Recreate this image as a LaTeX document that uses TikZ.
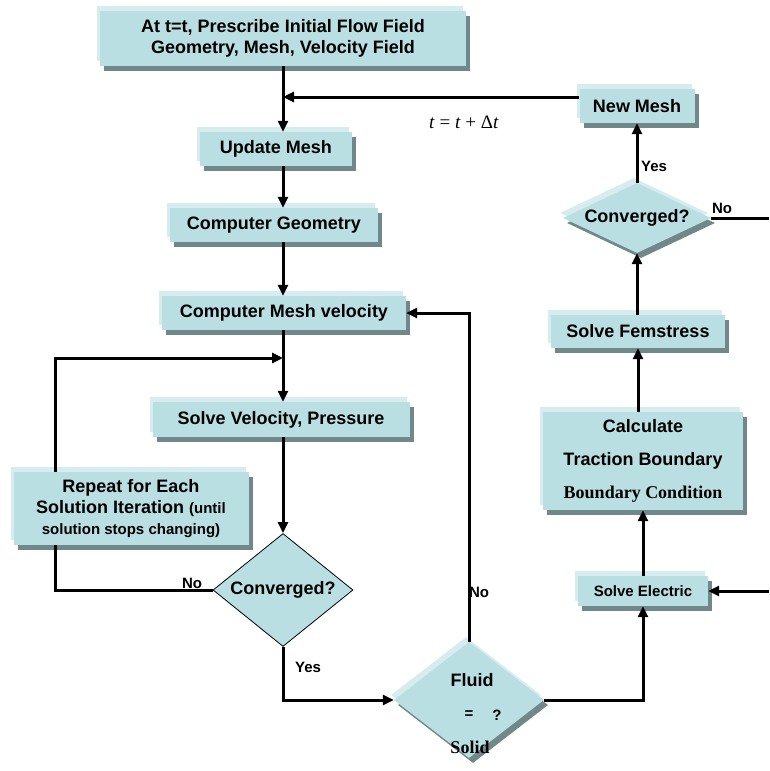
\documentclass[tikz,border=0pt]{standalone}
\usepackage{fontspec}
\setmainfont{Liberation Sans}
\newfontfamily\timesfont{Liberation Serif}
\usetikzlibrary{shapes.geometric,shadows,arrows.meta}
\definecolor{boxfill}{RGB}{185,223,227}
\definecolor{boxhi}{RGB}{214,236,239}
\definecolor{boxshade}{RGB}{112,136,138}
\tikzset{
  stepbox/.style={rectangle, fill=boxfill, inner sep=0pt, align=center,
    font=\fontsize{18}{21}\selectfont\bfseries,
    general shadow={shadow xshift=-3pt, shadow yshift=5pt, fill=boxhi},
    general shadow={shadow xshift=4pt, shadow yshift=-5pt, fill=boxshade}},
  decide/.style={stepbox, diamond, aspect=2},
  flow/.style={line width=3pt, -{Triangle[length=11pt,width=10pt]}},
  plain/.style={line width=3pt},
  tag/.style={font=\fontsize{15}{18}\selectfont\bfseries, inner sep=0pt},
}
\begin{document}
\begin{tikzpicture}[x=1pt,y=-1pt]
  \useasboundingbox (0,0) rectangle (769,771);
  % fluid loop
  \node[stepbox, minimum width=366pt, minimum height=55pt] (init) at (283,38.5) {At t=t, Prescribe Initial Flow Field\\Geometry, Mesh, Velocity Field};
  \node[stepbox, minimum width=152pt, minimum height=34pt] (upd) at (276,149) {Update Mesh};
  \node[stepbox, minimum width=208pt, minimum height=34pt] (geo) at (274,225) {Computer Geometry};
  \node[stepbox, minimum width=244pt, minimum height=34pt] (cmv) at (284,313) {Computer Mesh velocity};
  \node[stepbox, minimum width=257pt, minimum height=35pt] (svp) at (281,419.5) {Solve Velocity, Pressure};
  \node[stepbox, minimum width=235pt, minimum height=73pt] (rep) at (131,508.5) {Repeat for Each\\Solution Iteration {\fontsize{15}{18}\selectfont(until}\\{\fontsize{15}{18}\selectfont solution stops changing)}};
  \node[diamond, draw, line width=0.8pt, fill=boxfill, aspect=1.24, inner sep=0pt,
        minimum width=140pt, minimum height=113pt, font=\fontsize{18}{21}\selectfont\bfseries] (conv1) at (283,590) {Converged?};
  \node[decide, minimum width=150pt, minimum height=116pt] (fluid) at (469,700) {};
  \node[font=\fontsize{18}{21}\selectfont\bfseries, inner sep=0pt] (fl) at (472,680) {Fluid};
  \node[tag] (fleq) at (469,715) {=};
  \node[tag] (flq) at (497,715) {?};
  \node[font=\timesfont\fontsize{18}{21}\selectfont\bfseries, inner sep=0pt] (fs) at (470,747) {Solid};
  % structure side
  \node[stepbox, minimum width=115pt, minimum height=34pt] (newm) at (637,106) {New Mesh};
  \node[decide, minimum width=148pt, minimum height=70pt] (conv2) at (637,218) {Converged?};
  \node[stepbox, minimum width=174pt, minimum height=33pt] (fem) at (638,331.5) {Solve Femstress};
  \node[stepbox, minimum width=200pt, minimum height=98pt, font=\fontsize{18}{33}\selectfont\bfseries] (calc) at (643,461) {Calculate\\Traction Boundary\\{\timesfont Boundary Condition}};
  \node[stepbox, minimum width=130pt, minimum height=30pt, font=\fontsize{15}{18}\selectfont\bfseries] (elec) at (643,591) {Solve Electric};
  \node[inner sep=0pt, font=\timesfont\fontsize{19}{21}\selectfont] (tinc) at (464,122) {\textit{t} = \textit{t} + Δ\textit{t}};
  \coordinate (noexit) at (769,218);
  \coordinate (elecin) at (769,591);
  \coordinate (loopx) at (55,358);
  % connectors
  \draw[flow] (init.south) -- (init.south |- upd.north);
  \draw[flow] ([yshift=9pt]newm.west) -- ([yshift=9pt]newm.west -| init.south);
  \draw[flow] (init.south |- upd.south) -- (init.south |- geo.north);
  \draw[flow] (init.south |- geo.south) -- (init.south |- cmv.north);
  \draw[flow] (init.south |- cmv.south) -- (init.south |- svp.north);
  \draw[flow] (init.south |- svp.south) -- (conv1.north);
  \draw[plain] (conv1.west) -| (loopx |- rep.south);
  \draw[flow] (loopx |- rep.north) -- (loopx) -- (loopx -| init.south);
  \node[tag] (no1) at (192,583) {No};
  \draw[flow] (conv1.south) |- (fluid.west);
  \node[tag] (yes1) at (308,667) {Yes};
  \draw[flow] (fluid.north) |- (cmv.east);
  \node[tag] (no2) at (479,592) {No};
  \draw[flow] (fluid.east) -| (elec.south);
  \draw[flow] (elecin) -- (elec.east);
  \draw[flow] (elec.north) -- (elec.north |- calc.south);
  \draw[flow] (calc.north -| fem.south) -- (fem.south);
  \draw[flow] (fem.north -| conv2.south) -- (conv2.south);
  \draw[flow] (conv2.north) -- (newm.south);
  \node[tag] (yes2) at (654,166) {Yes};
  \draw[plain] (conv2.east) -- (noexit);
  \node[tag] (no3) at (722,208) {No};
\end{tikzpicture}
\end{document}
